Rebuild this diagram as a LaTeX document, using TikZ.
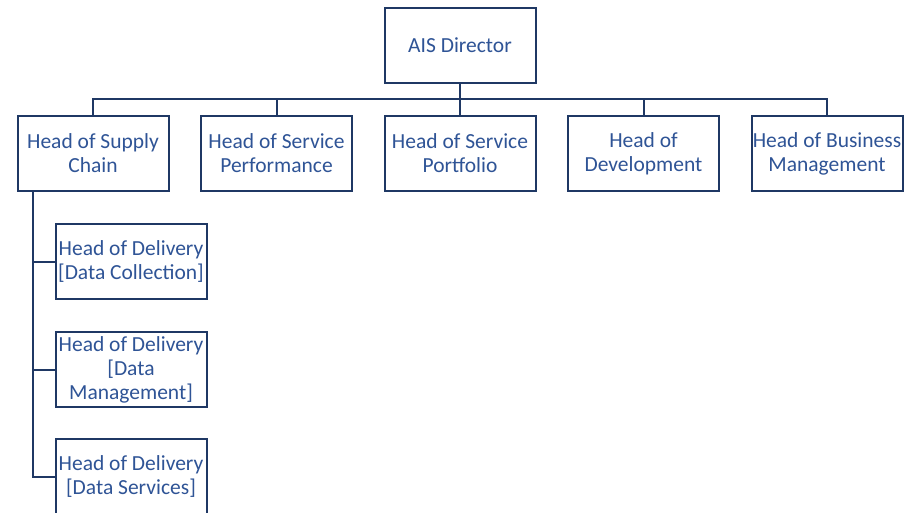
\documentclass[tikz,border=0pt]{standalone}
\usepackage{fontspec}
\setmainfont{Carlito}
\usepackage{tikz}
\definecolor{linenavy}{RGB}{31,56,100}
\definecolor{textblue}{RGB}{47,84,150}
\tikzset{post/.style={draw=linenavy,line width=2pt,fill=white,text=textblue,
  minimum width=151pt,minimum height=75pt,inner sep=0pt,align=center,
  font=\fontsize{21.5}{24}\selectfont}}
\tikzset{link/.style={draw=linenavy,line width=2pt}}

\begin{document}
\begin{tikzpicture}[x=1pt,y=-1pt,node distance=183.5pt]
          \useasboundingbox (0,0) rectangle (910,513);
          \node[post] (dir) at (460,45.5) {AIS Director};
          \node[post] (port) [below of=dir,node distance=108pt] {Head of Service\\Portfolio};
          \node[post] (perf) [left of=port] {Head of Service\\Performance};
          \node[post] (sc) [left of=perf] {Head of Supply\\Chain};
          \node[post] (dev) [right of=port] {Head of\\Development};
          \node[post] (bus) [right of=dev] {Head of Business\\Management};
          \node[post] (dc) [below of=sc,node distance=108pt,xshift=38pt] {Head of Delivery\\{[}Data Collection{]}};
          \node[post] (dm) [below of=dc,node distance=108pt] {Head of Delivery\\{[}Data\\Management{]}};
          \node[post] (ds) [below of=dm,node distance=107pt] {Head of Delivery\\{[}Data Services{]}};
          % director down to the bus, then to each head
          \coordinate (rail) at (0,99);
          \foreach \n in {sc,perf,port,dev,bus}
            \draw[link] (dir.south) -- (dir.south |- rail) -| (\n.north);
          % supply chain spine to the delivery heads
          \coordinate (spine) at ([xshift=16pt]sc.south west);
          \foreach \n in {dc,dm,ds}
            \draw[link] (spine) |- (\n.west);
        \end{tikzpicture}
\end{document}
